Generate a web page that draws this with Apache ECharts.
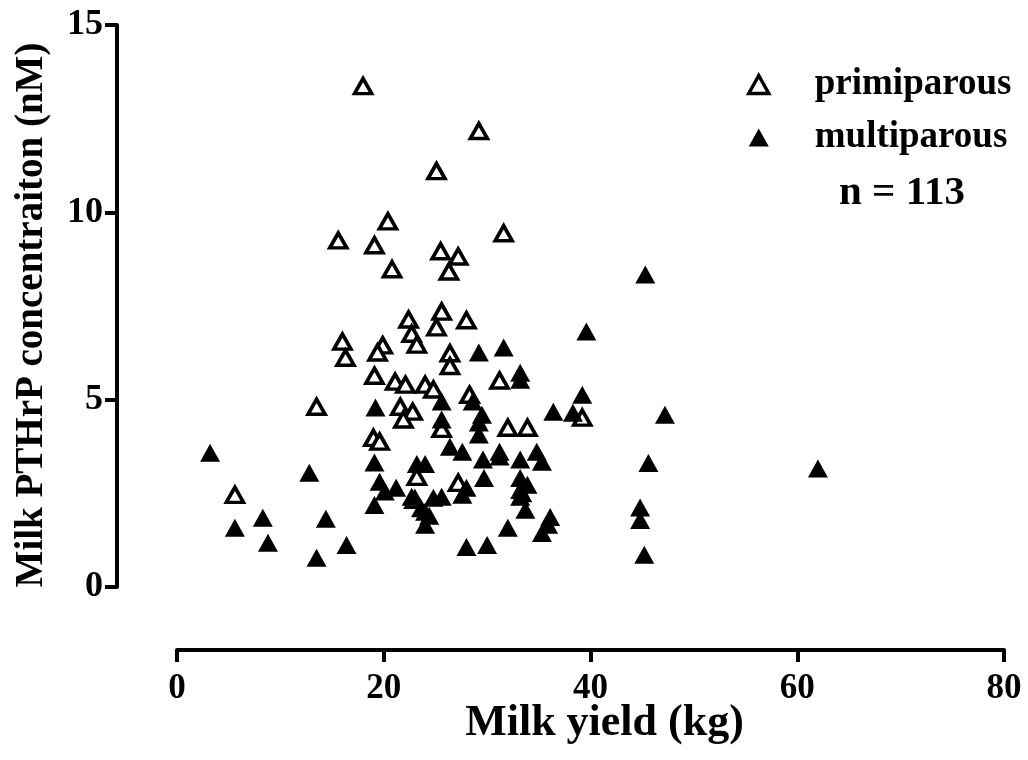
<!DOCTYPE html>
<html>
<head>
<meta charset="utf-8">
<script src="https://cdn.jsdelivr.net/npm/echarts@6/dist/echarts.min.js"></script>
<style>
html,body{margin:0;padding:0;background:#fff;}
#chart{width:1028px;height:760px;}
</style>
</head>
<body>
<div id="chart"></div>
<script>
// Data: [milk yield (kg), PTHrP (nM)]
var primiparous = [
  [18.0,13.37],[29.2,12.17],[25.1,11.10],[20.4,9.76],[15.6,9.25],[19.1,9.12],
  [31.6,9.44],[25.5,8.96],[27.2,8.82],[26.3,8.42],[20.8,8.48],[16.0,6.55],
  [16.3,6.12],[22.4,7.14],[25.6,7.35],[28.0,7.12],[22.7,6.76],[25.1,6.93],
  [19.9,6.45],[19.4,6.26],[23.2,6.47],[26.4,6.24],[26.4,5.90],[31.2,5.51],
  [19.1,5.64],[21.1,5.48],[22.1,5.40],[24.0,5.40],[24.8,5.27],[28.3,5.13],
  [21.6,4.81],[22.8,4.68],[21.9,4.47],[25.6,4.22],[32.0,4.25],[33.9,4.25],
  [19.0,3.98],[19.6,3.88],[13.5,4.81],[5.6,2.46],[23.2,2.94],[27.2,2.78],
  [23.0,2.33],[39.2,4.52]
];
var multiparous = [
  [3.2,3.58],[12.8,3.05],[5.6,1.58],[8.3,1.85],[8.8,1.18],[14.4,1.82],
  [16.4,1.12],[13.5,0.78],[19.2,4.79],[19.1,3.32],[19.6,2.81],[20.1,2.55],
  [21.2,2.65],[19.1,2.19],[23.2,3.28],[24.0,3.28],[22.7,2.41],[24.8,2.38],
  [25.6,2.41],[24.0,2.01],[24.0,1.66],[23.6,2.10],[26.4,3.74],[27.6,3.61],
  [29.6,3.40],[31.2,3.61],[31.2,3.48],[33.2,3.40],[29.7,2.91],[28.0,2.65],
  [27.6,2.46],[33.2,2.91],[33.9,2.73],[33.2,2.59],[33.2,2.41],[33.7,2.06],
  [32.0,1.58],[28.0,1.07],[30.0,1.12],[36.1,1.87],[35.9,1.66],[35.3,1.44],
  [34.8,3.61],[35.3,3.34],[29.2,6.26],[31.6,6.39],[33.2,5.72],[33.2,5.53],
  [25.6,4.95],[28.6,4.95],[29.5,4.60],[25.6,4.47],[29.2,4.39],[29.2,4.07],
  [36.4,4.68],[39.2,5.13],[38.3,4.65],[47.2,4.60],[39.6,6.82],[45.6,3.31],
  [44.8,2.12],[44.8,1.79],[45.2,0.86],[62.0,3.16],[45.3,8.34],[33.4,2.50],
  [24.4,1.90]
];
var xTitle = 'Milk yield (kg)';
var yTitle = 'Milk PTHrP concentraiton (nM)';
var seriesNames = ['primiparous', 'multiparous'];
var nText = 'n = 113';

var FONT = '"Liberation Serif", "Times New Roman", serif';
var chart = echarts.init(document.getElementById('chart'), null, {renderer: 'canvas'});
chart.setOption({
  backgroundColor: '#ffffff',
  animation: false,
  grid: {left: 177, right: 24, top: 25, bottom: 173, containLabel: false},
  title: {
    text: nText, left: 834, top: 168,
    textStyle: {fontFamily: FONT, fontWeight: 'bold', fontSize: 41, color: '#000'}
  },
  legend: {
    orient: 'vertical', left: 742, top: 61, itemGap: 16,
    itemWidth: 20, itemHeight: 18,
    data: [
      {name: seriesNames[0], itemStyle: {color: '#fff', borderColor: '#000', borderWidth: 3.5}},
      {name: seriesNames[1], itemStyle: {color: '#000', borderWidth: 0}}
    ],
    textStyle: {fontFamily: FONT, fontWeight: 'bold', fontSize: 37, color: '#000', padding: [0, 0, 0, 41]}
  },
  xAxis: {
    type: 'value', min: 0, max: 80, interval: 20, offset: 63,
    name: xTitle, nameLocation: 'middle', nameGap: 52, nameMoveOverlap: false,
    nameTextStyle: {fontFamily: FONT, fontWeight: 'bold', fontSize: 44, color: '#000', padding: [0, 0, 0, 28]},
    axisLine: {show: true, onZero: false, lineStyle: {color: '#000', width: 4}},
    axisTick: {show: true, inside: false, length: 12, lineStyle: {color: '#000', width: 4}},
    axisLabel: {fontFamily: FONT, fontWeight: 'bold', fontSize: 35, color: '#000', margin: 21},
    splitLine: {show: false}
  },
  yAxis: {
    type: 'value', min: 0, max: 15, interval: 5, offset: 60,
    name: yTitle, nameLocation: 'middle', nameGap: 66, nameRotate: 90,
    nameTextStyle: {fontFamily: FONT, fontWeight: 'bold', fontSize: 39, color: '#000', padding: [0, 18, 0, 0]},
    axisLine: {show: true, onZero: false, lineStyle: {color: '#000', width: 4}},
    axisTick: {show: true, inside: false, length: 12, lineStyle: {color: '#000', width: 4}},
    axisLabel: {fontFamily: FONT, fontWeight: 'bold', fontSize: 36, color: '#000', margin: 14},
    splitLine: {show: false}
  },
  series: [
    {
      name: seriesNames[0], type: 'scatter', data: primiparous,
      symbol: 'triangle', symbolSize: [17, 15],
      itemStyle: {color: '#ffffff', borderColor: '#000', borderWidth: 3.6, opacity: 1}
    },
    {
      name: seriesNames[1], type: 'scatter', data: multiparous,
      symbol: 'triangle', symbolSize: [20, 18],
      itemStyle: {color: '#000', borderWidth: 0, opacity: 1}
    }
  ]
});
</script>
</body>
</html>
